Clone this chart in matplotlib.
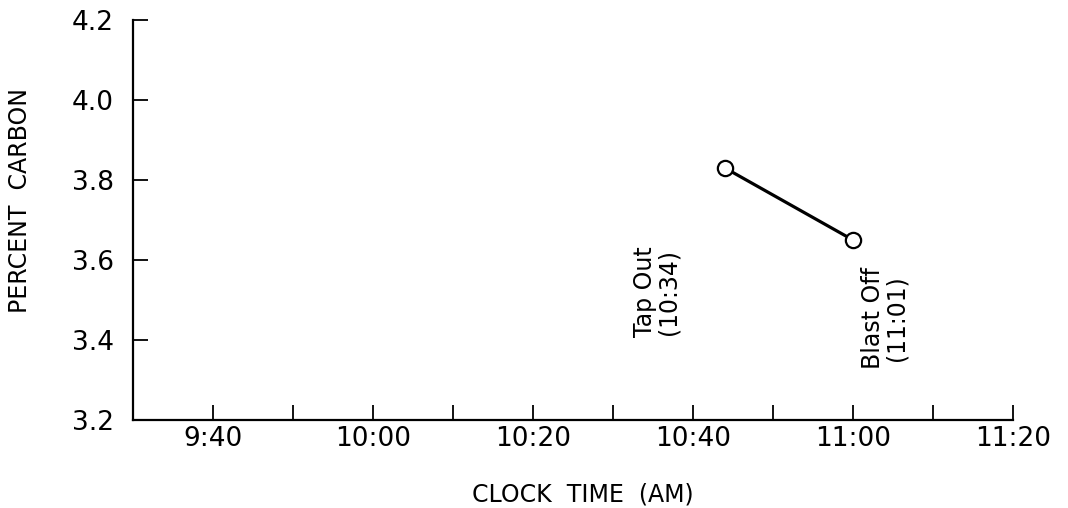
import matplotlib
matplotlib.use("Agg")
from matplotlib import pyplot as plt
from matplotlib.ticker import FixedLocator

# sample times and carbon content
times = ["10:44", "11:00"]
carbon = [3.83, 3.65]

major_times = ["9:40", "10:00", "10:20", "10:40", "11:00", "11:20"]
minor_times = ["9:50", "10:10", "10:30", "10:50", "11:10"]
y_ticks = [3.2, 3.4, 3.6, 3.8, 4.0, 4.2]

events = ["Tap Out\n(10:34)", "Blast Off\n(11:01)"]
event_times = ["10:35.5", "11:04"]
event_levels = [3.52, 3.455]


def to_min(t):
    h, m = t.split(":")
    return int(h) * 60 + float(m)


plt.rcParams['font.family'] = ['DejaVu Sans']

fig = plt.figure(figsize=(10.68, 5.08), dpi=100)
ax = fig.add_axes([0.1245, 0.1732, 0.824, 0.7874])

x = [to_min(t) for t in times]
ax.plot(x, carbon, color='black', lw=2.3, marker='o', ms=11,
        mfc='white', mec='black', mew=1.6, zorder=3)

for label, t, lvl in zip(events, event_times, event_levels):
    ax.text(to_min(t), lvl, label, rotation=90, ha='center', va='center',
            multialignment='center', fontsize=17, linespacing=1.0)

ax.set_xlim(to_min("9:30"), to_min("11:20"))
ax.set_ylim(3.2, 4.2)

ax.xaxis.set_major_locator(FixedLocator([to_min(t) for t in major_times]))
ax.xaxis.set_minor_locator(FixedLocator([to_min(t) for t in minor_times]))
ax.set_xticklabels(major_times)
ax.set_yticks(y_ticks)
ax.set_yticklabels(["%.1f" % v for v in y_ticks])

for side in ['top', 'right']:
    ax.spines[side].set_visible(False)
for side in ['left', 'bottom']:
    ax.spines[side].set_linewidth(1.6)

ax.tick_params(axis='both', which='both', direction='in', length=11,
               width=1.3, labelsize=19)
ax.tick_params(axis='x', pad=4)
ax.tick_params(axis='y', pad=14)

ax.set_xlabel("CLOCK  TIME  (AM)", fontsize=17)
ax.xaxis.set_label_coords(0.511, -0.155)
ax.set_ylabel("PERCENT  CARBON", fontsize=17)
ax.yaxis.set_label_coords(-0.115, 0.55)

fig.savefig("out.png", dpi=100)
